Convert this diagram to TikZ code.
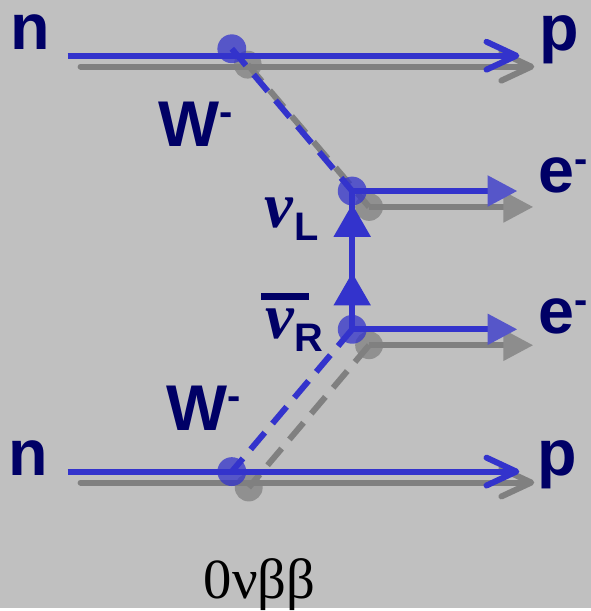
\documentclass[tikz,border=0pt]{standalone}
\usepackage{fontspec}
\setmainfont{Liberation Serif}
\newfontfamily\labelfont{Liberation Sans}
\usetikzlibrary{arrows.meta,decorations.markings}
\definecolor{bggray}{HTML}{C0C0C0}
\definecolor{lineblue}{HTML}{3333CC}
\definecolor{shadowgray}{HTML}{808080}
\definecolor{navy}{HTML}{000066}
\newcommand{\sups}[2]{#1\raisebox{#2}{\fontsize{40}{40}\selectfont -}}
\newcommand{\subs}[1]{\raisebox{-13pt}{\fontsize{40}{40}\selectfont #1}}
\newcommand{\nuglyph}{{\rmfamily\bfseries\itshape ν}\kern1pt}

\begin{document}
\begin{tikzpicture}[x=1pt,y=-1pt,
	lbl/.style={anchor=base,inner sep=0,text=navy,font=\labelfont\bfseries\fontsize{65}{65}\selectfont},
	bline/.style={lineblue,line width=6pt},
	gline/.style={shadowgray,line width=6pt},
	vtx/.style={circle,minimum size=29pt,inner sep=0},
	wline/.style={dash pattern=on 22pt off 12pt},
	barb/.style={-{Straight Barb[length=30pt,width=28pt,round]}},
	tri/.style={-{Triangle[length=30pt,width=30pt,color=#1]}}]
	\fill[bggray] (0,0) rectangle (594,611);

	% vertices
	\node (a) at (233,49) [vtx] {};
	\node (b) at (354,192) [vtx] {};
	\node (c) at (354,331) [vtx] {};
	\node (d) at (233,474) [vtx] {};
	\node (ga) at (249,65) [vtx] {};
	\node (gb) at (371,208) [vtx] {};
	\node (gc) at (371,347) [vtx] {};
	\node (gd) at (250,490) [vtx] {};

	% free ends of the nucleon and electron lines
	\coordinate (nin1) at (68,56);   \coordinate (pout1) at (522,56);
	\coordinate (nin2) at (68,474);  \coordinate (pout2) at (522,474);
	\coordinate (gnin1) at (81,67);  \coordinate (gpout1) at (537,67);
	\coordinate (gnin2) at (81,485); \coordinate (gpout2) at (537,485);
	\coordinate (eout1) at (520,192); \coordinate (eout2) at (520,331);
	\coordinate (geout1) at (536,208); \coordinate (geout2) at (536,347);

	% shadow
	\draw [gline,barb,line cap=round] (gnin1) -- (gpout1);
	\draw [gline,barb,line cap=round] (gnin2) -- (gpout2);
	\draw [gline,wline] (ga.center) -- (gb.center);
	\draw [gline,wline] (gc.center) -- (gd.center);
	\draw [gline,tri=shadowgray!80!bggray] (gb.center) -- (geout1);
	\draw [gline,tri=shadowgray!80!bggray] (gc.center) -- (geout2);
	\fill[shadowgray,opacity=0.75] (ga) circle (14pt) (gb) circle (14pt) (gc) circle (14pt) (gd) circle (14pt);

	% diagram
	\draw [bline,barb] (nin1) -- (pout1);
	\draw [bline,barb] (nin2) -- (pout2);
	\draw [bline,wline] (a.center) -- (b.center);
	\draw [bline,wline] (c.center) -- (d.center);
	\draw [bline,tri=lineblue!75!bggray] (b.center) -- (eout1);
	\draw [bline,tri=lineblue!75!bggray] (c.center) -- (eout2);
	\draw [bline,postaction={decorate},decoration={markings,
		mark=at position 0.41 with {\arrow{Triangle[length=33pt,width=36pt]}},
		mark=at position 0.906 with {\arrow{Triangle[length=33pt,width=36pt]}}}]
		(c.center) -- (b.center);
	\fill[lineblue,opacity=0.75] (a) circle (14.5pt) (b) circle (14.5pt) (c) circle (14.5pt) (d) circle (14.5pt);

	% labels
	\node (n1) at (30,50) [lbl] {n};
	\node (p1) at (562,51) [lbl] {p};
	\node (w1) at (197,147) [lbl] {\sups{W}{21pt}};
	\node (e1) at (566,193) [lbl] {\sups{e}{20pt}};
	\node (nul) at (293,229) [lbl] {\nuglyph\subs{L}};
	\node (nur) at (296,340) [lbl] {\rlap{\kern-4pt\rule[38pt]{48pt}{8pt}}\nuglyph\subs{R}};
	\node (e2) at (566,335) [lbl] {\sups{e}{20pt}};
	\node (w2) at (205,433) [lbl] {\sups{W}{21pt}};
	\node (n2) at (28,478) [lbl] {n};
	\node (p2) at (560,478) [lbl] {p};
	\node (decay) at (261,602) [anchor=base,inner sep=0,font=\fontsize{57}{57}\selectfont] {0νββ};
\end{tikzpicture}
\end{document}
